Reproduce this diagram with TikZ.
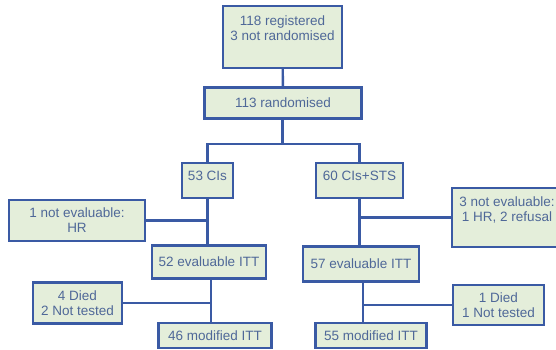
\documentclass[tikz,border=0pt]{standalone}
\usepackage{fontspec}
\setmainfont{Liberation Sans}
\definecolor{boxline}{HTML}{3A5AA4}
\definecolor{boxfill}{HTML}{E4EEDA}
\definecolor{boxtext}{HTML}{4F6898}
\tikzset{
  flowbox/.style={draw=boxline, line width=2.4pt, fill=boxfill, text=boxtext,
    font=\fontsize{13.5}{15}\selectfont, align=center, inner sep=0pt},
  link/.style={draw=boxline, line width=2.4pt}
}
\begin{document}
\begin{tikzpicture}[x=1pt,y=-1pt]
\useasboundingbox (0,0) rectangle (556,350);
\clip (0,0) rectangle (556,350);
\node[flowbox, minimum width=119, minimum height=62] (reg) at (282.5,37) {118 registered\\3 not randomised\\[2pt]\mbox{}};
\node[flowbox, minimum width=157, minimum height=31] (rand) at (283,103) {113 randomised};
\node[flowbox, minimum width=51, minimum height=35] (cis) at (207.5,180.5) {53 CIs\\[-6pt]\mbox{}};
\node[flowbox, minimum width=87, minimum height=35] (sts) at (359.5,180.5) {60 CIs+STS\\[-6pt]\mbox{}};
\node[flowbox, minimum width=136, minimum height=41] (hr) at (77,220.5) {1 not evaluable:\\HR};
\node[flowbox, minimum width=110, minimum height=59] (refu) at (507,217.5) {3 not evaluable:\\1 HR, 2 refusal\\[2pt]\mbox{}};
\node[flowbox, minimum width=114, minimum height=33] (ev52) at (209,262) {52 evaluable ITT};
\node[flowbox, minimum width=116, minimum height=35] (ev57) at (361,264) {57 evaluable ITT};
\node[flowbox, minimum width=89, minimum height=41] (died4) at (77.5,303) {4 Died\\2 Not tested};
\node[flowbox, minimum width=91, minimum height=40] (died1) at (498.5,305) {1 Died\\1 Not tested};
\node[flowbox, minimum width=113, minimum height=25] (mod46) at (215,335.5) {46 modified ITT};
\node[flowbox, minimum width=111, minimum height=25] (mod55) at (371,335.5) {55 modified ITT};
\coordinate (split) at (282.5,144);
\coordinate (l52) at ([xshift=2pt]ev52.south);
\coordinate (l57) at ([xshift=2pt]ev57.south);
% connectors
\draw[link] (reg) -- (rand);
\draw[link] (rand.south -| split) -- (split);
\draw[link] (cis.north) |- (split) -| (sts.north);
\draw[link] (cis.south) -- (cis.south |- ev52.north);
\draw[link] (hr.east) -- (hr.east -| cis.south);
\draw[link] (sts.south) -- (sts.south |- ev57.north);
\draw[link] (refu.west) -- (refu.west -| sts.south);
\draw[link] (l52) -- (l52 |- mod46.north);
\draw[link] (died4.east) -- (died4.east -| l52);
\draw[link] (l57) -- (l57 |- mod55.north);
\draw[link] (died1.west) -- (died1.west -| l57);
\end{tikzpicture}
\end{document}
